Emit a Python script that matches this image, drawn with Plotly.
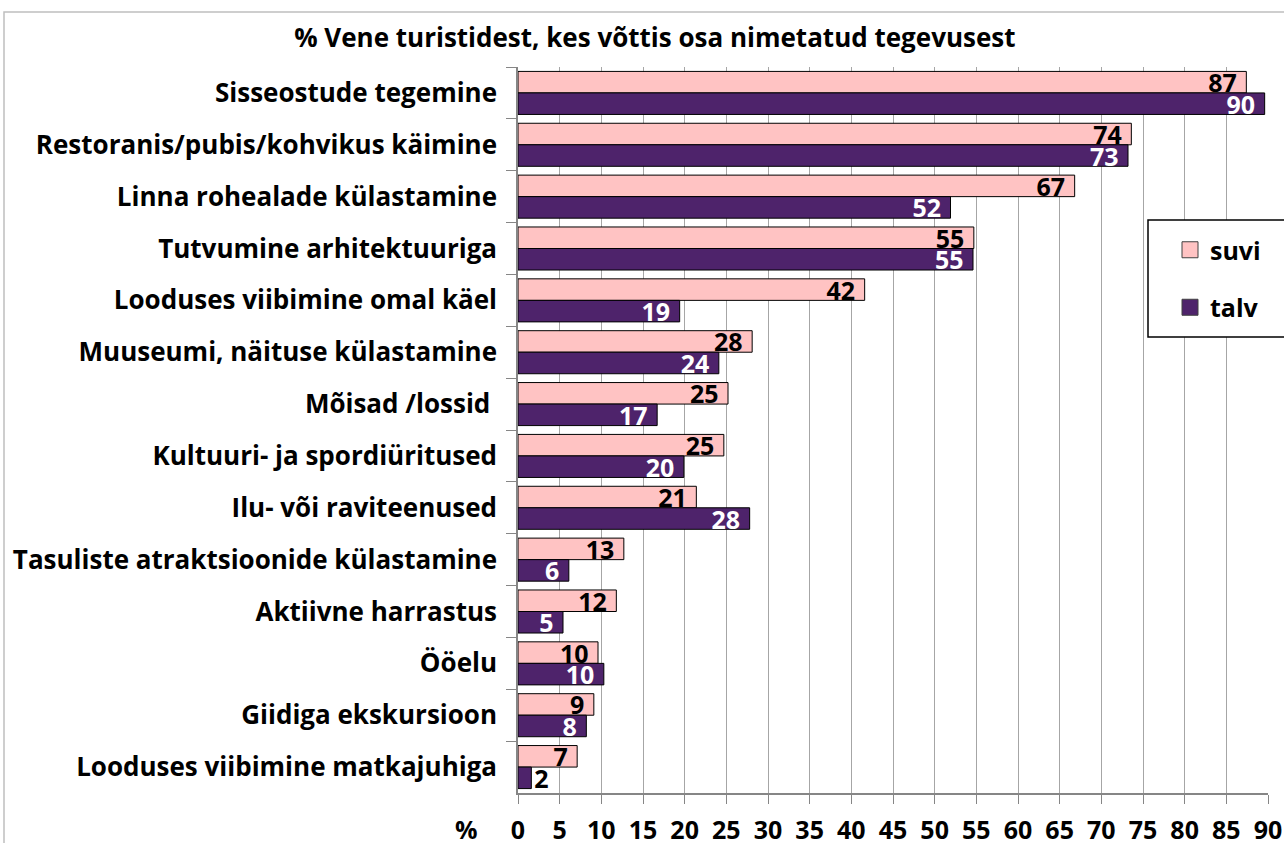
import plotly.graph_objects as go

categories = [
    "Sisseostude tegemine",
    "Restoranis/pubis/kohvikus käimine",
    "Linna rohealade külastamine",
    "Tutvumine arhitektuuriga",
    "Looduses viibimine omal käel",
    "Muuseumi, näituse külastamine",
    "Mõisad /lossid ",
    "Kultuuri- ja spordiüritused",
    "Ilu- või raviteenused",
    "Tasuliste atraktsioonide külastamine",
    "Aktiivne harrastus",
    "Ööelu",
    "Giidiga ekskursioon",
    "Looduses viibimine matkajuhiga",
]
suvi = [87.4, 73.6, 66.8, 54.7, 41.6, 28.1, 25.2, 24.7, 21.4, 12.7, 11.8, 9.6, 9.1, 7.1]
talv = [89.6, 73.2, 51.9, 54.6, 19.4, 24.1, 16.7, 19.9, 27.8, 6.1, 5.4, 10.3, 8.2, 1.6]
x_ticks = list(range(0, 95, 5))

FONT = "Open Sans"
PINK = "#FFC3C3"
PURPLE = "#4E236B"
NB = "\u00a0"

fig = go.Figure()

fig.add_trace(go.Bar(
    y=categories, x=suvi, name="suvi", orientation="h",
    marker=dict(color=PINK, line=dict(color="#000000", width=1)),
    texttemplate="%{x:.0f}" + NB, textposition="inside", insidetextanchor="end",
    textangle=0, constraintext="none", cliponaxis=False,
    textfont=dict(family=FONT, size=25, color="black", weight="bold"),
    showlegend=False,
))

# the smallest talv bar carries its label outside, in black
small = [v < 3 for v in talv]
fig.add_trace(go.Bar(
    y=categories, x=talv, name="talv", orientation="h",
    marker=dict(color=PURPLE, line=dict(color="#000000", width=1)),
    texttemplate=["%{x:.0f}" if s else "%{x:.0f}" + NB for s in small],
    textposition=["outside" if s else "inside" for s in small],
    insidetextanchor="end", textangle=0, constraintext="none", cliponaxis=False,
    textfont=dict(family=FONT, size=25, weight="bold",
                  color=["black" if s else "white" for s in small]),
    showlegend=False,
))

# legend entries with larger square keys
for name, col, grp in [("suvi", PINK, "a"), ("talv", PURPLE, "b")]:
    fig.add_trace(go.Scatter(
        x=[None], y=[None], name=name, mode="markers",
        marker=dict(symbol="square", size=16, color=col,
                    line=dict(color="#404040", width=1)),
        legendgroup=grp,
    ))

fig.update_layout(
    width=1284, height=843,
    margin=dict(l=518, r=16, t=67, b=50, autoexpand=False),
    paper_bgcolor="white", plot_bgcolor="white",
    barmode="group", bargap=0.17, bargroupgap=0,
    font=dict(family=FONT, color="black"),
    title=dict(
        text="<b>% Vene turistidest, kes võttis osa nimetatud tegevusest</b>",
        x=0.51, xanchor="center", y=1 - 38 / 843, yanchor="middle",
        font=dict(family=FONT, size=26, color="black"),
    ),
    legend=dict(
        x=(1170 - 518) / 750, xanchor="left", y=(793 - 227) / 726, yanchor="top",
        bgcolor="rgba(0,0,0,0)", borderwidth=0,
        font=dict(family=FONT, size=25, color="black", weight="bold"),
        traceorder="grouped", tracegroupgap=22, itemwidth=30,
    ),
    showlegend=True,
)

fig.update_xaxes(
    range=[0, 90], tickvals=x_ticks,
    showgrid=True, gridcolor="#A6A6A6", gridwidth=1,
    showline=True, linecolor="#868686", linewidth=1.5,
    ticks="outside", ticklen=9, tickcolor="#868686",
    tickfont=dict(family=FONT, size=25, color="black", weight="bold"),
    ticklabelstandoff=5, zeroline=False,
)
fig.update_yaxes(
    autorange="reversed", type="category",
    showline=True, linecolor="#868686", linewidth=1.5,
    ticks="outside", ticklen=10, tickcolor="#868686", tickson="boundaries",
    tickfont=dict(family=FONT, size=26, color="black", weight="bold"),
    ticklabelstandoff=14, showgrid=False,
)

fig.add_annotation(
    text="<b>%</b>", xref="paper", yref="paper",
    x=(466 - 518) / 750, y=(793 - 829) / 726,
    showarrow=False, xanchor="center", yanchor="middle",
    font=dict(family=FONT, size=25, color="black"),
)

# chart area frame
fig.add_shape(
    type="rect", xref="paper", yref="paper",
    x0=(4 - 518) / 750, x1=(1300 - 518) / 750,
    y0=(793 - 860) / 726, y1=(793 - 12) / 726,
    line=dict(color="#BFBFBF", width=1.5), layer="below",
)
# legend frame
fig.add_shape(
    type="rect", xref="paper", yref="paper",
    x0=(1148 - 518) / 750, x1=(1295 - 518) / 750,
    y0=(793 - 337) / 726, y1=(793 - 220) / 726,
    line=dict(color="black", width=1.5), fillcolor="white", layer="above",
)

fig.write_html("out.html", config={"displayModeBar": False},
               post_script="document.body.style.margin='0px';")
